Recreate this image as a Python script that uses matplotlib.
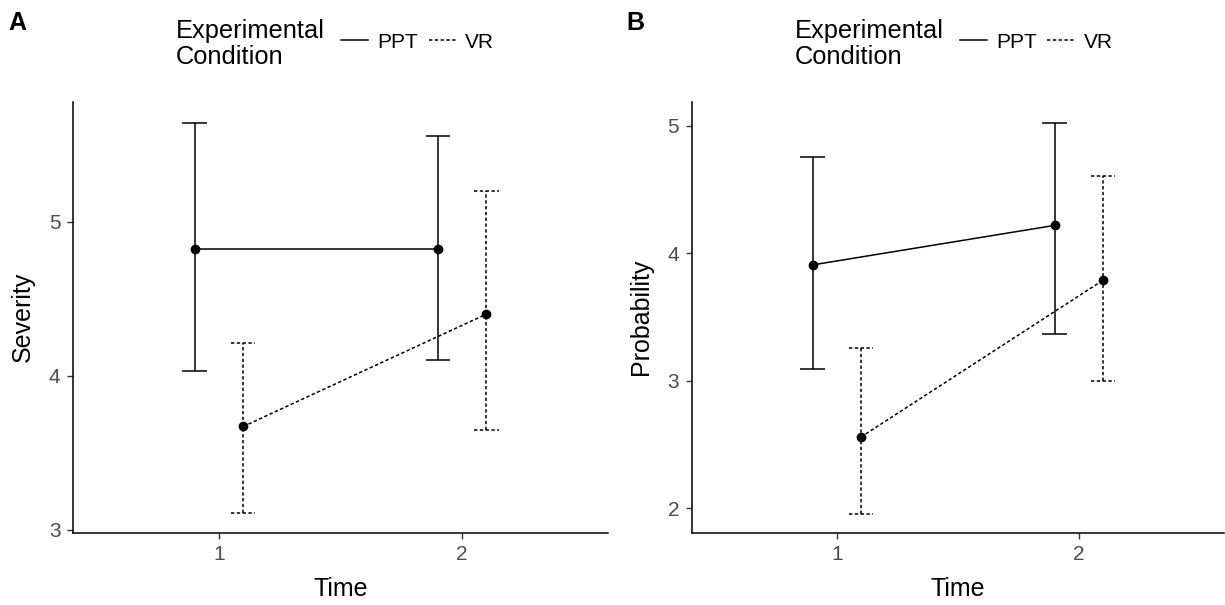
import matplotlib
matplotlib.use('Agg')
import matplotlib.pyplot as plt
import numpy as np

plt.rcParams['font.family'] = ['Liberation Sans', 'DejaVu Sans']

# data
times = [1, 2]
conditions = ['PPT', 'VR']

sev_mean = {'PPT': [4.82, 4.82], 'VR': [3.67, 4.40]}
sev_low = {'PPT': [4.03, 4.10], 'VR': [3.11, 3.65]}
sev_high = {'PPT': [5.64, 5.56], 'VR': [4.21, 5.20]}

prob_mean = {'PPT': [3.91, 4.22], 'VR': [2.56, 3.79]}
prob_low = {'PPT': [3.09, 3.37], 'VR': [1.96, 3.00]}
prob_high = {'PPT': [4.76, 5.02], 'VR': [3.26, 4.61]}

sev_ticks = [3, 4, 5]
prob_ticks = [2, 3, 4, 5]

styles = {'PPT': '-', 'VR': (0, (2.2, 1.6))}
dodge = {'PPT': -0.1, 'VR': 0.1}
grey = '#4D4D4D'

fig = plt.figure(figsize=(12.25, 6.05), dpi=100)
axA = fig.add_axes([0.0596, 0.1195, 0.4367, 0.7124])
axB = fig.add_axes([0.5645, 0.1195, 0.4347, 0.7124])


def panel(ax, mean, low, high, ticks, ylabel, ylim):
    for c in conditions:
        x = np.array(times) + dodge[c]
        ls = styles[c]
        ax.plot(x, mean[c], color='black', lw=1.1, linestyle=ls, zorder=3)
        ax.vlines(x, low[c], high[c], color='black', lw=1.1, linestyles=[ls])
        ax.hlines(low[c], x - 0.05, x + 0.05, color='black', lw=1.1, linestyles=[ls])
        ax.hlines(high[c], x - 0.05, x + 0.05, color='black', lw=1.1, linestyles=[ls])
        ax.plot(x, mean[c], 'o', color='black', ms=6, zorder=4)
    ax.set_xlim(0.4, 2.6)
    ax.set_ylim(*ylim)
    ax.set_xticks(times)
    ax.set_yticks(ticks)
    ax.tick_params(labelsize=15, labelcolor=grey, color='#333333', length=4, width=1, pad=5)
    for s in ['top', 'right']:
        ax.spines[s].set_visible(False)
    for s in ['left', 'bottom']:
        ax.spines[s].set_linewidth(1.1)
    ax.set_xlabel('Time', fontsize=18, labelpad=9)
    ax.set_ylabel(ylabel, fontsize=18, labelpad=10)


panel(axA, sev_mean, sev_low, sev_high, sev_ticks, 'Severity', (2.98, 5.78))
panel(axB, prob_mean, prob_low, prob_high, prob_ticks, 'Probability', (1.81, 5.19))

# legends at top of each panel
for ax, xoff, lab in [(axA, 0.0, 'A'), (axB, 618.5, 'B')]:
    fig.text((8 + xoff) / 1225, 1 - 11 / 605, lab, fontsize=18, fontweight='bold', va='top', ha='left')
    fig.text((176 + xoff) / 1225, 1 - 19 / 605, 'Experimental\nCondition', fontsize=18.3,
             va='top', ha='left', linespacing=1.1)
    handles = [plt.Line2D([], [], color='black', lw=1.1, linestyle=styles[c]) for c in conditions]
    fig.legend(handles, conditions, loc='center left', ncol=2, frameon=False,
               bbox_to_anchor=((341 + xoff) / 1225, 1 - 42 / 605), fontsize=15,
               handlelength=1.3, handletextpad=0.45, columnspacing=0.5, borderpad=0, borderaxespad=0)

fig.savefig('out.png', dpi=100)
